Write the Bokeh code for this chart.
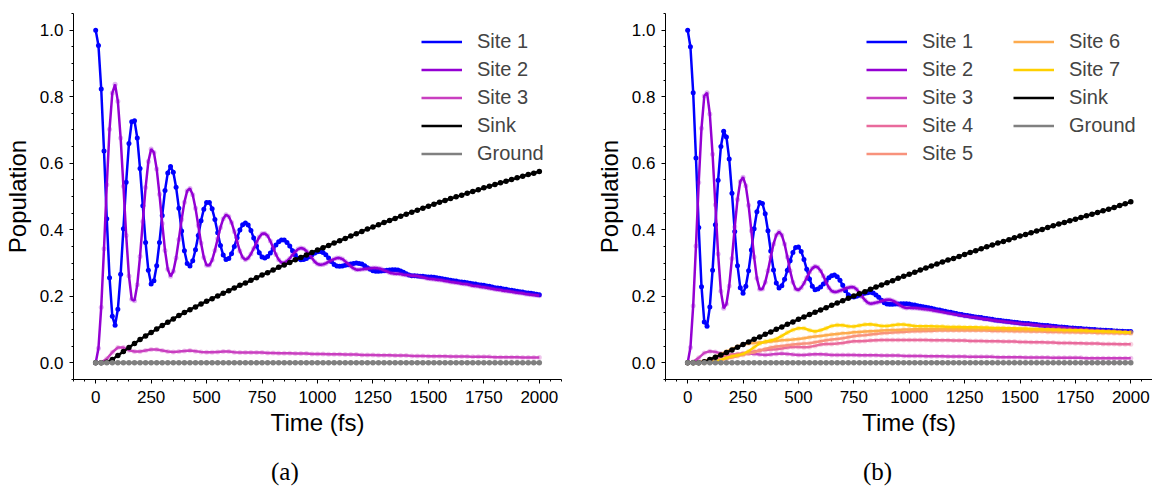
from bokeh.plotting import figure
from bokeh.models import Legend, LegendItem, SingleIntervalTicker, PrintfTickFormatter, Div, Spacer
from bokeh.layouts import row, column
from bokeh.embed import file_html
from bokeh.resources import INLINE

# ---------------- data ----------------
t_fine = [12.5 * i for i in range(161)]     # fs
t_coarse = [25.0 * i for i in range(81)]    # fs

site1_a = [1.0, 0.954, 0.823, 0.637, 0.433, 0.256, 0.140,
           0.113, 0.161, 0.266, 0.403, 0.543, 0.659, 0.725,
           0.728, 0.676, 0.584, 0.472, 0.362, 0.278, 0.237,
           0.247, 0.292, 0.362, 0.443, 0.518, 0.571, 0.590,
           0.573, 0.528, 0.465, 0.396, 0.337, 0.299,
           0.291, 0.307, 0.340, 0.383, 0.427, 0.462, 0.482,
           0.482, 0.463, 0.431, 0.391, 0.353, 0.324, 0.311,
           0.314, 0.328, 0.350, 0.376, 0.399, 0.415, 0.420,
           0.414, 0.398, 0.375, 0.351, 0.331, 0.318,
           0.315, 0.320, 0.330, 0.342, 0.354, 0.364, 0.369,
           0.369, 0.362, 0.351, 0.337, 0.324, 0.314, 0.310,
           0.311, 0.314, 0.319, 0.325, 0.330, 0.334, 0.335,
           0.332, 0.325, 0.315, 0.305, 0.296, 0.291,
           0.290, 0.291, 0.293, 0.295, 0.297, 0.299, 0.300,
           0.299, 0.297, 0.292, 0.286, 0.281, 0.277, 0.275,
           0.275, 0.276, 0.277, 0.278, 0.279, 0.280, 0.280,
           0.279, 0.276, 0.272, 0.268, 0.264, 0.262,
           0.262, 0.261, 0.260, 0.260, 0.259, 0.258, 0.258,
           0.257, 0.256, 0.254, 0.253, 0.251, 0.250, 0.248, 0.247, 0.246, 0.244,
           0.243, 0.242, 0.241, 0.239, 0.238, 0.237, 0.235, 0.234, 0.233, 0.231,
           0.230, 0.228, 0.226, 0.225, 0.224, 0.222, 0.221, 0.219, 0.218, 0.217,
           0.215, 0.214, 0.213, 0.211, 0.210, 0.209, 0.208, 0.206, 0.205]

site2_a = [0.0, 0.044, 0.167, 0.343, 0.535, 0.702, 0.811,
           0.837, 0.786, 0.676, 0.531, 0.383, 0.261, 0.191,
           0.187, 0.235, 0.320, 0.425, 0.527, 0.605, 0.643,
           0.632, 0.583, 0.507, 0.419, 0.338, 0.281, 0.260,
           0.275, 0.315, 0.371, 0.431, 0.483, 0.517,
           0.524, 0.505, 0.465, 0.413, 0.360, 0.317, 0.293,
           0.293, 0.309, 0.338, 0.373, 0.407, 0.433, 0.445,
           0.440, 0.422, 0.395, 0.365, 0.336, 0.317, 0.310,
           0.315, 0.327, 0.344, 0.362, 0.378, 0.388,
           0.389, 0.382, 0.366, 0.346, 0.326, 0.310, 0.301,
           0.301, 0.306, 0.314, 0.325, 0.334, 0.342, 0.345,
           0.343, 0.336, 0.326, 0.315, 0.304, 0.297, 0.295,
           0.296, 0.299, 0.304, 0.308, 0.312, 0.315,
           0.315, 0.312, 0.305, 0.298, 0.290, 0.284, 0.280,
           0.280, 0.281, 0.282, 0.283, 0.284, 0.285, 0.285,
           0.284, 0.282, 0.278, 0.275, 0.271, 0.269, 0.268,
           0.268, 0.267, 0.265, 0.264, 0.263, 0.262,
           0.262, 0.261, 0.259, 0.257, 0.255, 0.253, 0.252,
           0.251, 0.250, 0.249, 0.248, 0.246, 0.245, 0.243, 0.242, 0.241, 0.240,
           0.238, 0.237, 0.236, 0.234, 0.232, 0.231, 0.230, 0.228, 0.227, 0.226,
           0.224, 0.223, 0.221, 0.220, 0.219, 0.217, 0.216, 0.215, 0.214, 0.212,
           0.211, 0.210, 0.209, 0.207, 0.206, 0.205, 0.204, 0.203, 0.202]

site3_a = [0.0, 0.002, 0.012, 0.032, 0.046, 0.046, 0.038, 0.034, 0.034, 0.037,
           0.040, 0.040, 0.037, 0.034, 0.033, 0.034, 0.036, 0.037, 0.035, 0.033,
           0.032, 0.032, 0.033, 0.034, 0.034, 0.032, 0.031, 0.031, 0.031, 0.031,
           0.031, 0.030, 0.030, 0.029, 0.029, 0.029, 0.028, 0.028, 0.028, 0.027,
           0.027, 0.027, 0.026, 0.026, 0.026, 0.025, 0.025, 0.025, 0.024, 0.024,
           0.024, 0.023, 0.023, 0.023, 0.022, 0.022, 0.022, 0.021, 0.021, 0.021,
           0.020, 0.020, 0.020, 0.020, 0.019, 0.019, 0.019, 0.019, 0.018, 0.018,
           0.018, 0.018, 0.017, 0.017, 0.017, 0.017, 0.017, 0.016, 0.016, 0.016,
           0.016]

sink_a = [0.0, 0.0, 0.002, 0.010, 0.022, 0.034, 0.046, 0.058, 0.070, 0.081,
          0.091, 0.102, 0.112, 0.122, 0.132, 0.142, 0.151, 0.160, 0.168, 0.177,
          0.185, 0.193, 0.201, 0.209, 0.217, 0.225, 0.233, 0.240, 0.248, 0.256,
          0.264, 0.271, 0.279, 0.287, 0.294, 0.302, 0.310, 0.317, 0.324, 0.332,
          0.339, 0.346, 0.353, 0.360, 0.367, 0.374, 0.381, 0.388, 0.395, 0.402,
          0.408, 0.415, 0.422, 0.428, 0.434, 0.441, 0.447, 0.453, 0.459, 0.465,
          0.471, 0.477, 0.483, 0.488, 0.494, 0.499, 0.504, 0.510, 0.515, 0.520,
          0.526, 0.531, 0.536, 0.541, 0.546, 0.551, 0.556, 0.561, 0.566, 0.570,
          0.575]

ground_a = [0.0] * 81

site1_b = [1.0, 0.950, 0.812, 0.616, 0.407, 0.229, 0.123,
           0.110, 0.168, 0.278, 0.415, 0.549, 0.650, 0.696,
           0.679, 0.613, 0.510, 0.395, 0.292, 0.226,
           0.209, 0.230, 0.277, 0.339, 0.403, 0.454, 0.482,
           0.479, 0.448, 0.397, 0.336, 0.279, 0.240,
           0.225, 0.232, 0.251, 0.278, 0.307, 0.332, 0.347,
           0.348, 0.335, 0.311, 0.281, 0.252, 0.230, 0.220,
           0.222, 0.228, 0.237, 0.247, 0.256, 0.262,
           0.264, 0.259, 0.248, 0.233, 0.217, 0.205, 0.199,
           0.198, 0.200, 0.203, 0.206, 0.209, 0.211,
           0.212, 0.210, 0.204, 0.197, 0.188, 0.181, 0.177,
           0.176, 0.176, 0.177, 0.177, 0.178, 0.178, 0.178, 0.177,
           0.175, 0.174, 0.172, 0.170, 0.169, 0.167, 0.166, 0.164,
           0.162, 0.160, 0.159, 0.157, 0.155, 0.153, 0.152, 0.150,
           0.148, 0.146, 0.145, 0.143, 0.142, 0.141, 0.139, 0.138,
           0.137, 0.136, 0.134, 0.133, 0.132, 0.131, 0.129, 0.128,
           0.127, 0.126, 0.125, 0.124, 0.123, 0.122, 0.121, 0.120,
           0.119, 0.118, 0.118, 0.117, 0.116, 0.115, 0.114, 0.113,
           0.112, 0.112, 0.111, 0.110, 0.109, 0.108, 0.108, 0.107,
           0.106, 0.105, 0.105, 0.104, 0.103, 0.103, 0.102, 0.102,
           0.101, 0.100, 0.100, 0.099, 0.099, 0.098, 0.098, 0.097,
           0.097, 0.096, 0.096, 0.095, 0.095, 0.094, 0.094, 0.094]

site2_b = [0.0, 0.046, 0.172, 0.351, 0.542, 0.705, 0.802,
           0.812, 0.748, 0.627, 0.475, 0.327, 0.215, 0.164,
           0.177, 0.231, 0.314, 0.408, 0.491, 0.545,
           0.558, 0.532, 0.474, 0.397, 0.318, 0.254, 0.221,
           0.222, 0.242, 0.277, 0.318, 0.357, 0.384,
           0.394, 0.384, 0.357, 0.318, 0.277, 0.242, 0.222,
           0.219, 0.226, 0.239, 0.256, 0.272, 0.284, 0.290,
           0.287, 0.277, 0.261, 0.242, 0.226, 0.216,
           0.213, 0.214, 0.217, 0.220, 0.224, 0.226, 0.228,
           0.227, 0.221, 0.211, 0.199, 0.189, 0.181,
           0.178, 0.179, 0.181, 0.183, 0.186, 0.188, 0.190,
           0.190, 0.187, 0.183, 0.177, 0.171, 0.167, 0.165, 0.166,
           0.165, 0.165, 0.164, 0.163, 0.162, 0.161, 0.160, 0.159,
           0.157, 0.156, 0.154, 0.153, 0.151, 0.150, 0.148, 0.147,
           0.145, 0.144, 0.142, 0.141, 0.140, 0.138, 0.137, 0.136,
           0.135, 0.133, 0.132, 0.131, 0.130, 0.128, 0.127, 0.126,
           0.125, 0.124, 0.123, 0.122, 0.121, 0.120, 0.119, 0.118,
           0.117, 0.116, 0.116, 0.115, 0.114, 0.113, 0.112, 0.111,
           0.110, 0.110, 0.109, 0.108, 0.107, 0.106, 0.106, 0.105,
           0.104, 0.103, 0.103, 0.102, 0.101, 0.101, 0.100, 0.100,
           0.099, 0.098, 0.098, 0.097, 0.097, 0.096, 0.096, 0.095,
           0.095, 0.094, 0.094, 0.093, 0.093, 0.092, 0.092, 0.091]

site3_b = [0.0, 0.003, 0.015, 0.030, 0.035, 0.033, 0.028, 0.025, 0.024, 0.025,
           0.027, 0.028, 0.027, 0.025, 0.024, 0.025, 0.027, 0.028, 0.027, 0.025,
           0.024, 0.024, 0.025, 0.026, 0.026, 0.025, 0.024, 0.024, 0.024, 0.024,
           0.024, 0.023, 0.023, 0.023, 0.023, 0.022, 0.022, 0.022, 0.022, 0.021,
           0.021, 0.021, 0.021, 0.020, 0.020, 0.020, 0.020, 0.019, 0.019, 0.019,
           0.019, 0.018, 0.018, 0.018, 0.018, 0.018, 0.017, 0.017, 0.017, 0.017,
           0.017, 0.016, 0.016, 0.016, 0.016, 0.016, 0.015, 0.015, 0.015, 0.015,
           0.015, 0.015, 0.014, 0.014, 0.014, 0.014, 0.014, 0.014, 0.014, 0.014,
           0.014]

site4_b = [0.0, 0.0, 0.001, 0.004, 0.008, 0.013, 0.018, 0.022, 0.025, 0.027,
           0.029, 0.031, 0.034, 0.037, 0.039, 0.040, 0.041, 0.043, 0.046, 0.048,
           0.048, 0.047, 0.048, 0.051, 0.055, 0.057, 0.057, 0.058, 0.060, 0.063,
           0.065, 0.065, 0.066, 0.067, 0.068, 0.069, 0.069, 0.069, 0.069, 0.069,
           0.069, 0.069, 0.069, 0.069, 0.068, 0.068, 0.068, 0.068, 0.067, 0.067,
           0.067, 0.066, 0.066, 0.066, 0.065, 0.065, 0.065, 0.064, 0.064, 0.064,
           0.063, 0.063, 0.062, 0.062, 0.062, 0.061, 0.061, 0.060, 0.060, 0.060,
           0.059, 0.059, 0.058, 0.058, 0.058, 0.057, 0.057, 0.057, 0.056, 0.056,
           0.056]

site5_b = [0.0, 0.0, 0.0, 0.001, 0.003, 0.005, 0.008, 0.012, 0.016, 0.020,
           0.024, 0.028, 0.032, 0.037, 0.042, 0.046, 0.049, 0.051, 0.053, 0.055,
           0.057, 0.058, 0.059, 0.062, 0.065, 0.068, 0.070, 0.072, 0.074, 0.077,
           0.080, 0.082, 0.083, 0.085, 0.087, 0.089, 0.090, 0.091, 0.092, 0.093,
           0.094, 0.095, 0.095, 0.096, 0.096, 0.097, 0.097, 0.097, 0.097, 0.097,
           0.097, 0.097, 0.097, 0.097, 0.097, 0.096, 0.096, 0.096, 0.096, 0.095,
           0.095, 0.095, 0.094, 0.094, 0.094, 0.093, 0.093, 0.093, 0.092, 0.092,
           0.092, 0.091, 0.091, 0.091, 0.090, 0.090, 0.090, 0.089, 0.089, 0.089,
           0.088]

site6_b = [0.0, 0.0, 0.001, 0.005, 0.011, 0.018, 0.026, 0.034, 0.042, 0.049,
           0.055, 0.058, 0.060, 0.061, 0.062, 0.064, 0.066, 0.068, 0.069, 0.070,
           0.072, 0.074, 0.077, 0.079, 0.081, 0.083, 0.085, 0.087, 0.089, 0.090,
           0.092, 0.093, 0.094, 0.095, 0.096, 0.097, 0.098, 0.099, 0.099, 0.100,
           0.100, 0.101, 0.101, 0.101, 0.101, 0.101, 0.101, 0.101, 0.101, 0.101,
           0.101, 0.101, 0.100, 0.100, 0.100, 0.100, 0.100, 0.099, 0.099, 0.099,
           0.099, 0.098, 0.098, 0.098, 0.097, 0.097, 0.097, 0.096, 0.096, 0.096,
           0.095, 0.095, 0.094, 0.094, 0.093, 0.093, 0.093, 0.092, 0.092, 0.091,
           0.091]

site7_b = [0.0, 0.0, 0.0, 0.0, 0.001, 0.004, 0.009, 0.015, 0.020, 0.023,
           0.027, 0.035, 0.047, 0.058, 0.064, 0.067, 0.072, 0.081, 0.091, 0.099,
           0.104, 0.104, 0.098, 0.094, 0.098, 0.104, 0.111, 0.114, 0.113, 0.110,
           0.109, 0.112, 0.115, 0.116, 0.114, 0.111, 0.111, 0.113, 0.115, 0.115,
           0.113, 0.111, 0.110, 0.110, 0.110, 0.109, 0.109, 0.108, 0.108, 0.108,
           0.107, 0.107, 0.107, 0.106, 0.106, 0.105, 0.105, 0.105, 0.104, 0.104,
           0.103, 0.103, 0.102, 0.102, 0.101, 0.101, 0.100, 0.100, 0.099, 0.099,
           0.098, 0.098, 0.097, 0.096, 0.096, 0.095, 0.094, 0.094, 0.093, 0.092,
           0.091]

sink_b = [0.0, 0.0, 0.0, 0.003, 0.010, 0.017, 0.024, 0.031, 0.039, 0.047,
          0.055, 0.063, 0.071, 0.078, 0.086, 0.093, 0.101, 0.108, 0.116, 0.123,
          0.131, 0.138, 0.145, 0.152, 0.159, 0.166, 0.173, 0.180, 0.187, 0.194,
          0.201, 0.208, 0.214, 0.221, 0.228, 0.234, 0.241, 0.247, 0.254, 0.260,
          0.266, 0.272, 0.279, 0.285, 0.291, 0.297, 0.303, 0.309, 0.314, 0.320,
          0.326, 0.332, 0.337, 0.343, 0.349, 0.354, 0.360, 0.365, 0.370, 0.376,
          0.381, 0.386, 0.391, 0.396, 0.401, 0.407, 0.412, 0.417, 0.422, 0.427,
          0.432, 0.437, 0.442, 0.447, 0.452, 0.457, 0.462, 0.467, 0.473, 0.478,
          0.484]

ground_b = [0.0] * 81

colors = {
    "Site 1": "#0000ff", "Site 2": "#9400d3", "Site 3": "#c93fc0",
    "Site 4": "#e96a9c", "Site 5": "#f8927c", "Site 6": "#fdab4e",
    "Site 7": "#ffd000", "Sink": "#000000", "Ground": "#808080",
}
marker_alpha = {"Site 1": 1.0, "Sink": 1.0, "Ground": 1.0}
marker_size = {"Sink": 5.5, "Ground": 5.5}

FONT = "Liberation Sans"


def make_panel(width, border_left, border_right, x_end, series, legend_groups):
    p = figure(width=width, height=458, x_range=(-100, x_end), y_range=(-0.05, 1.05),
               output_backend="svg", toolbar_location=None, title=None,
               min_border_left=border_left, min_border_right=border_right,
               min_border_top=13, min_border_bottom=79,
               outline_line_color=None, background_fill_color="white",
               border_fill_color="white")
    p.grid.visible = False
    renderers = {}
    for name, t, y in series:
        c = colors[name]
        p.scatter(t, y, size=marker_size.get(name, 5), fill_color=c, line_color=None,
                  fill_alpha=marker_alpha.get(name, 0.3))
        renderers[name] = p.line(t, y, line_color=c, line_width=2.5)

    p.xaxis.ticker = SingleIntervalTicker(interval=250, num_minor_ticks=5)
    p.yaxis.ticker = SingleIntervalTicker(interval=0.2, num_minor_ticks=4)
    p.yaxis.formatter = PrintfTickFormatter(format="%.1f")
    p.xaxis.axis_label = "Time (fs)"
    p.yaxis.axis_label = "Population"
    for ax in (p.xaxis[0], p.yaxis[0]):
        ax.major_tick_out = 4
        ax.major_tick_in = 0
        ax.minor_tick_out = 2
        ax.minor_tick_in = 0
        ax.axis_line_color = "black"
        ax.major_tick_line_color = "black"
        ax.minor_tick_line_color = "black"
        ax.major_label_text_font = FONT
        ax.major_label_text_font_size = "17px"
        ax.major_label_text_color = "black"
        ax.axis_label_text_font = FONT
        ax.axis_label_text_font_size = "24px"
        ax.axis_label_text_font_style = "normal"
        ax.axis_label_text_color = "black"
    p.xaxis.major_label_standoff = 7
    p.yaxis.major_label_standoff = 6
    p.xaxis.axis_label_standoff = 3
    p.yaxis.axis_label_standoff = 6

    for names, loc in legend_groups:
        items = [LegendItem(label=n, renderers=[renderers[n]]) for n in names]
        lg = Legend(items=items, location=loc, padding=0, margin=0,
                    border_line_color=None, background_fill_alpha=0,
                    glyph_width=41, glyph_height=25, label_height=25,
                    label_standoff=15, spacing=3,
                    label_text_font=FONT, label_text_font_size="20px")
        p.add_layout(lg)
    return p


series_a = [("Site 1", t_fine, site1_a), ("Site 2", t_fine, site2_a),
            ("Site 3", t_coarse, site3_a), ("Sink", t_coarse, sink_a),
            ("Ground", t_coarse, ground_a)]
series_b = [("Site 1", t_fine, site1_b), ("Site 2", t_fine, site2_b),
            ("Site 3", t_coarse, site3_b), ("Site 4", t_coarse, site4_b),
            ("Site 5", t_coarse, site5_b), ("Site 6", t_coarse, site6_b),
            ("Site 7", t_coarse, site7_b), ("Sink", t_coarse, sink_b),
            ("Ground", t_coarse, ground_b)]

for _, t, y in series_a + series_b:
    assert len(t) == len(y), (len(t), len(y))

pa = make_panel(590, 73, 29, 2100, series_a,
                [(["Site 1", "Site 2", "Site 3", "Sink", "Ground"], (348, 213))])
pb = make_panel(562, 75, 0, 2098, series_b,
                [(["Site 1", "Site 2", "Site 3", "Site 4", "Site 5"], (201, 213)),
                 (["Site 6", "Site 7", "Sink", "Ground"], (348, 241))])

cap_style = {"font-family": "Liberation Serif", "font-size": "25px",
             "line-height": "28px", "color": "black", "text-align": "left"}
cap_a = Div(text="(a)", width=592, height=28, margin=0, styles=cap_style)
cap_b = Div(text="(b)", width=60, height=28, margin=0, styles=cap_style)
captions = row(Spacer(width=271, height=28, margin=0), cap_a, cap_b)

layout = column(row(pa, pb), captions)
open("out.html", "w").write(file_html(layout, INLINE))
